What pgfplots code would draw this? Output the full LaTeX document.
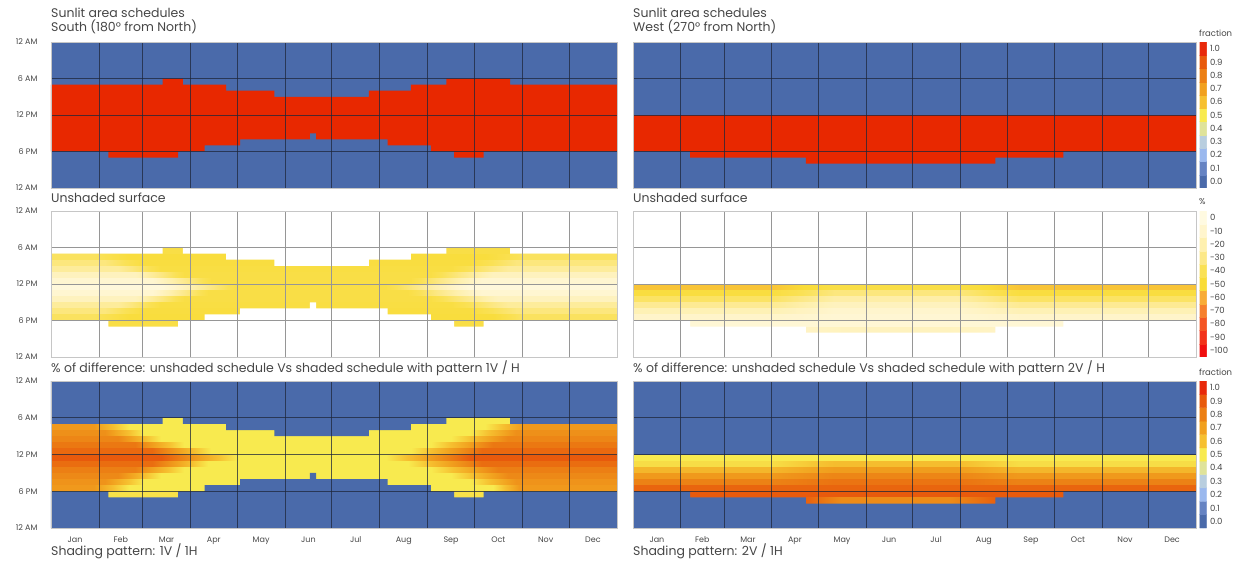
\documentclass[border=0pt]{standalone}
\usepackage{pgfplots}
\pgfplotsset{compat=1.18}
\usepackage{pgfplotstable}
\usepackage{fontspec}
\setmainfont{Poppins}

\definecolor{bgblue}{RGB}{74,106,170}
\definecolor{sunred}{RGB}{232,40,0}
\definecolor{txt}{RGB}{70,70,70}
\definecolor{gridD}{RGB}{30,38,58}
\definecolor{gridL}{RGB}{150,150,150}

\pgfplotsset{
  colormap={frac}{
    rgb255(0cm)=(74,106,170) rgb255(0.5cm)=(74,106,170)
    rgb255(1.5cm)=(101,131,195) rgb255(2.5cm)=(154,184,238)
    rgb255(3.5cm)=(184,206,223) rgb255(4.5cm)=(223,227,154)
    rgb255(5.5cm)=(248,234,79) rgb255(6.5cm)=(246,192,48)
    rgb255(7.5cm)=(241,160,30) rgb255(8.5cm)=(236,127,20)
    rgb255(9.5cm)=(232,90,12) rgb255(10.5cm)=(232,41,10)
    rgb255(11cm)=(232,41,10)},
  colormap={pct}{
    rgb255(0cm)=(240,15,15) rgb255(0.5cm)=(240,15,15)
    rgb255(1.5cm)=(242,50,25) rgb255(2.5cm)=(244,85,35)
    rgb255(3.5cm)=(246,128,45) rgb255(4.5cm)=(248,172,55)
    rgb255(5.5cm)=(249,220,55) rgb255(6.5cm)=(250,225,85)
    rgb255(7.5cm)=(252,232,135) rgb255(8.5cm)=(254,240,175)
    rgb255(9.5cm)=(255,245,205) rgb255(10.5cm)=(255,250,225)
    rgb255(11cm)=(255,250,225)},
  panel/.style={
    scale only axis, anchor=south west, height=146pt,
    xmin=0, xmax=365, ymin=0, ymax=24, y dir=reverse,
    xtick={15.5,45,74.5,105,135.5,166,196.5,227.5,258,288.5,319,349.5},
    xticklabels={},
    minor xtick={31,59,90,120,151,181,212,243,273,304,334},
    ytick={0,6,12,18,24},
    yticklabels={},
    major tick length=0pt, minor tick length=0pt,
    xminorgrids=true, ymajorgrids=true,
    axis on top,
    axis line style={draw=gray!45, line width=0.8pt},
    tick label style={font=\fontsize{8}{9.6}\selectfont, text=txt},
    yticklabel style={xshift=-10pt},
    xticklabel style={yshift=-5pt},
  },
  darkgrid/.style={grid style={gridD, line width=0.8pt, opacity=0.75}},
  lightgrid/.style={grid style={gridL, line width=0.8pt}},
  fracmap/.style={colormap name=frac, point meta min=-0.05, point meta max=1.05},
  pctmap/.style={colormap name=pct, point meta min=-105, point meta max=5},
  hours/.style={yticklabels={12 AM,6 AM,12 PM,6 PM,12 AM}},
  months/.style={xticklabels={Jan,Feb,Mar,Apr,May,Jun,Jul,Aug,Sep,Oct,Nov,Dec}},
  cbar/.style={scale only axis, anchor=south west, width=7pt, height=146pt,
    xmin=-0.5, xmax=1.5, xtick=\empty, axis line style={draw=none},
    major tick length=0pt, yticklabel pos=right,
    tick label style={font=\fontsize{8.5}{10}\selectfont, text=txt}},
}

% ---- region outlines (hours of day vs day of year) ----
\pgfplotstableread{
0 7
72 7
72 6
85 6
85 7
113 7
113 8
144 8
144 9
205 9
205 8
232 8
232 7
255 7
255 6
296 6
296 7
365 7
365 18
279 18
279 19
260 19
260 18
245 18
245 17
217 17
217 16
171 16
171 15
167 15
167 16
122 16
122 17
99 17
99 18
82 18
82 19
37 19
37 18
0 18
}\sReg
\pgfplotstableread{
0 0
0 7
72 7
72 6
85 6
85 7
113 7
113 8
144 8
144 9
205 9
205 8
232 8
232 7
255 7
255 6
296 6
296 7
365 7
365 0
}\sAbove
\pgfplotstableread{
0 24
0 18
37 18
37 19
82 19
82 18
99 18
99 17
122 17
122 16
167 16
167 15
171 15
171 16
217 16
217 17
245 17
245 18
260 18
260 19
279 19
279 18
365 18
365 24
}\sBelow
\pgfplotstableread{
0 12
365 12
365 18
279 18
279 19
235 19
235 20
112 20
112 19
37 19
37 18
0 18
}\wReg
\pgfplotstableread{
0 24
0 18
37 18
37 19
112 19
112 20
235 20
235 19
279 19
279 18
365 18
365 24
}\wBelow

% ---- South, fraction of difference ----
\pgfplotstableread{
x y c
0 6 0.5
73 6 0.5
146 6 0.5
219 6 0.5
292 6 0.5
365 6 0.5
0 7 0.5
73 7 0.5
146 7 0.5
219 7 0.5
292 7 0.5
365 7 0.5
0 7 0.72
28 7 0.72
50 7 0.5
280 7 0.5
305 7 0.72
365 7 0.72
0 8 0.72
28 8 0.72
50 8 0.5
280 8 0.5
305 8 0.72
365 8 0.72
0 8 0.75
35 8 0.75
60 8 0.5
270 8 0.5
300 8 0.75
365 8 0.75
0 9 0.75
35 9 0.75
60 9 0.5
270 9 0.5
300 9 0.75
365 9 0.75
0 9 0.78
43 9 0.78
71 9 0.5
258 9 0.5
295 9 0.78
365 9 0.78
0 10 0.78
43 10 0.78
71 10 0.5
258 10 0.5
295 10 0.78
365 10 0.78
0 10 0.82
54 10 0.82
86 10 0.5
245 10 0.5
285 10 0.82
365 10 0.82
0 11 0.82
54 11 0.82
86 11 0.5
245 11 0.5
285 11 0.82
365 11 0.82
0 11 0.86
65 11 0.86
103 11 0.5
232 11 0.5
278 11 0.86
365 11 0.86
0 12 0.86
65 12 0.86
103 12 0.5
232 12 0.5
278 12 0.86
365 12 0.86
0 12 0.9
71 12 0.9
120 12 0.5
216 12 0.5
270 12 0.9
365 12 0.9
0 13 0.9
71 13 0.9
120 13 0.5
216 13 0.5
270 13 0.9
365 13 0.9
0 13 0.85
65 13 0.85
101 13 0.5
230 13 0.5
278 13 0.85
365 13 0.85
0 14 0.85
65 14 0.85
101 14 0.5
230 14 0.5
278 14 0.85
365 14 0.85
0 14 0.8
54 14 0.8
86 14 0.5
245 14 0.5
288 14 0.8
365 14 0.8
0 15 0.8
54 15 0.8
86 15 0.5
245 15 0.5
288 15 0.8
365 15 0.8
0 15 0.77
43 15 0.77
71 15 0.5
258 15 0.5
295 15 0.77
365 15 0.77
0 16 0.77
43 16 0.77
71 16 0.5
258 16 0.5
295 16 0.77
365 16 0.77
0 16 0.74
35 16 0.74
60 16 0.5
270 16 0.5
300 16 0.74
365 16 0.74
0 17 0.74
35 17 0.74
60 17 0.5
270 17 0.5
300 17 0.74
365 17 0.74
0 17 0.72
28 17 0.72
50 17 0.5
285 17 0.5
302 17 0.72
365 17 0.72
0 18 0.72
28 18 0.72
50 18 0.5
285 18 0.5
302 18 0.72
365 18 0.72
0 18 0.52
73 18 0.52
146 18 0.52
219 18 0.52
292 18 0.52
365 18 0.52
0 19 0.52
73 19 0.52
146 19 0.52
219 19 0.52
292 19 0.52
365 19 0.52
}\blMesh

% ---- South, unshaded surface (%) ----
\pgfplotstableread{
x y c
0 6 -45
73 6 -45
146 6 -45
219 6 -45
292 6 -45
365 6 -45
0 7 -45
73 7 -45
146 7 -45
219 7 -45
292 7 -45
365 7 -45
0 7 -38
28 7 -38
50 7 -48
280 7 -48
305 7 -38
365 7 -38
0 8 -38
28 8 -38
50 8 -48
280 8 -48
305 8 -38
365 8 -38
0 8 -32
35 8 -32
60 8 -47
270 8 -47
300 8 -32
365 8 -32
0 9 -32
35 9 -32
60 9 -47
270 9 -47
300 9 -32
365 9 -32
0 9 -25
43 9 -25
71 9 -46
258 9 -46
295 9 -25
365 9 -25
0 10 -25
43 10 -25
71 10 -46
258 10 -46
295 10 -25
365 10 -25
0 10 -15
54 10 -15
86 10 -45
245 10 -45
285 10 -15
365 10 -15
0 11 -15
54 11 -15
86 11 -45
245 11 -45
285 11 -15
365 11 -15
0 11 -8
65 11 -8
103 11 -45
232 11 -45
278 11 -8
365 11 -8
0 12 -8
65 12 -8
103 12 -45
232 12 -45
278 12 -8
365 12 -8
0 12 -3
71 12 -3
120 12 -45
216 12 -45
270 12 -3
365 12 -3
0 13 -3
71 13 -3
120 13 -45
216 13 -45
270 13 -3
365 13 -3
0 13 -8
65 13 -8
101 13 -45
230 13 -45
278 13 -8
365 13 -8
0 14 -8
65 14 -8
101 14 -45
230 14 -45
278 14 -8
365 14 -8
0 14 -15
54 14 -15
86 14 -45
245 14 -45
288 14 -15
365 14 -15
0 15 -15
54 15 -15
86 15 -45
245 15 -45
288 15 -15
365 15 -15
0 15 -25
43 15 -25
71 15 -46
258 15 -46
295 15 -25
365 15 -25
0 16 -25
43 16 -25
71 16 -46
258 16 -46
295 16 -25
365 16 -25
0 16 -32
35 16 -32
60 16 -47
270 16 -47
300 16 -32
365 16 -32
0 17 -32
35 17 -32
60 17 -47
270 17 -47
300 17 -32
365 17 -32
0 17 -38
28 17 -38
50 17 -48
285 17 -48
302 17 -38
365 17 -38
0 18 -38
28 18 -38
50 18 -48
285 18 -48
302 18 -38
365 18 -38
0 18 -45
73 18 -45
146 18 -45
219 18 -45
292 18 -45
365 18 -45
0 19 -45
73 19 -45
146 19 -45
219 19 -45
292 19 -45
365 19 -45
}\mlMesh

% ---- West, fraction of difference ----
\pgfplotstableread{
x y c
0 12 0.5
90 12 0.5
130 12 0.5
210 12 0.5
250 12 0.5
365 12 0.5
0 13 0.5
90 13 0.5
130 13 0.5
210 13 0.5
250 13 0.5
365 13 0.5
0 13 0.53
90 13 0.53
130 13 0.61
210 13 0.61
250 13 0.53
365 13 0.53
0 14 0.53
90 14 0.53
130 14 0.61
210 14 0.61
250 14 0.53
365 14 0.53
0 14 0.63
90 14 0.63
130 14 0.71
210 14 0.71
250 14 0.63
365 14 0.63
0 15 0.63
90 15 0.63
130 15 0.71
210 15 0.71
250 15 0.63
365 15 0.63
0 15 0.72
90 15 0.72
130 15 0.78
210 15 0.78
250 15 0.72
365 15 0.72
0 16 0.72
90 16 0.72
130 16 0.78
210 16 0.78
250 16 0.72
365 16 0.72
0 16 0.79
90 16 0.79
130 16 0.83
210 16 0.83
250 16 0.79
365 16 0.79
0 17 0.79
90 17 0.79
130 17 0.83
210 17 0.83
250 17 0.79
365 17 0.79
0 17 0.87
90 17 0.87
130 17 0.87
210 17 0.87
250 17 0.87
365 17 0.87
0 18 0.87
90 18 0.87
130 18 0.87
210 18 0.87
250 18 0.87
365 18 0.87
0 18 0.9
90 18 0.9
130 18 0.9
210 18 0.9
250 18 0.9
365 18 0.9
0 19 0.9
90 19 0.9
130 19 0.9
210 19 0.9
250 19 0.9
365 19 0.9
0 19 0.88
112 19 0.88
135 19 0.76
205 19 0.76
235 19 0.88
365 19 0.88
0 20 0.88
112 20 0.88
135 20 0.76
205 20 0.76
235 20 0.88
365 20 0.88
}\brMesh

% ---- West, unshaded surface (%) ----
\pgfplotstableread{
x y c
0 12 -55
90 12 -55
130 12 -45
210 12 -45
250 12 -55
365 12 -55
0 13 -55
90 13 -55
130 13 -45
210 13 -45
250 13 -55
365 13 -55
0 13 -47
90 13 -47
130 13 -32
210 13 -32
250 13 -47
365 13 -47
0 14 -47
90 14 -47
130 14 -32
210 14 -32
250 14 -47
365 14 -47
0 14 -37
90 14 -37
130 14 -22
210 14 -22
250 14 -37
365 14 -37
0 15 -37
90 15 -37
130 15 -22
210 15 -22
250 15 -37
365 15 -37
0 15 -27
90 15 -27
130 15 -15
210 15 -15
250 15 -27
365 15 -27
0 16 -27
90 16 -27
130 16 -15
210 16 -15
250 16 -27
365 16 -27
0 16 -18
90 16 -18
130 16 -10
210 16 -10
250 16 -18
365 16 -18
0 17 -18
90 17 -18
130 17 -10
210 17 -10
250 17 -18
365 17 -18
0 17 -11
90 17 -11
130 17 -7
210 17 -7
250 17 -11
365 17 -11
0 18 -11
90 18 -11
130 18 -7
210 18 -7
250 18 -11
365 18 -11
0 18 -6
90 18 -6
130 18 -6
210 18 -6
250 18 -6
365 18 -6
0 19 -6
90 19 -6
130 19 -6
210 19 -6
250 19 -6
365 19 -6
0 19 -13
112 19 -13
135 19 -15
205 19 -15
235 19 -13
365 19 -13
0 20 -13
112 20 -13
135 20 -15
205 20 -15
235 20 -13
365 20 -13
}\mrMesh

\pgfplotstableread{
x y c
0 0 0
1 0 0
0 0.1 0.1
1 0.1 0.1
0 0.2 0.2
1 0.2 0.2
0 0.3 0.3
1 0.3 0.3
0 0.4 0.4
1 0.4 0.4
0 0.5 0.5
1 0.5 0.5
0 0.6 0.6
1 0.6 0.6
0 0.7 0.7
1 0.7 0.7
0 0.8 0.8
1 0.8 0.8
0 0.9 0.9
1 0.9 0.9
0 1 1
1 1 1
}\fracBar
\pgfplotstableread{
x y c
0 -100 -100
1 -100 -100
0 -90 -90
1 -90 -90
0 -80 -80
1 -80 -80
0 -70 -70
1 -70 -70
0 -60 -60
1 -60 -60
0 -50 -50
1 -50 -50
0 -40 -40
1 -40 -40
0 -30 -30
1 -30 -30
0 -20 -20
1 -20 -20
0 -10 -10
1 -10 -10
0 0 0
1 0 0
}\pctBar

\newcommand\ttl{\fontsize{12.5}{15}\selectfont}
\newcommand\sml{\fontsize{8.5}{10}\selectfont}

\begin{document}
\begin{tikzpicture}
\path[use as bounding box] (0,0) rectangle (1240pt,563pt);

% ===== top row =====
\begin{axis}[panel, darkgrid, hours, at={(51pt,375pt)}, width=566pt,
  axis background/.style={fill=bgblue}]
\addplot[draw=none, fill=sunred] table {\sReg} -- cycle;
\end{axis}
\begin{axis}[panel, darkgrid, at={(633pt,375pt)}, width=563pt,
  axis background/.style={fill=bgblue}]
\addplot[draw=none, fill=sunred] table {\wReg} -- cycle;
\end{axis}

% ===== middle row =====
\begin{axis}[panel, lightgrid, pctmap, hours, at={(51pt,206pt)}, width=566pt,
  axis background/.style={fill=white}]
\addplot[surf, shader=interp, mesh/cols=6, point meta=explicit]
  table[x=x, y=y, meta=c] {\mlMesh};
\addplot[draw=none, fill=white] table {\sAbove} -- cycle;
\addplot[draw=none, fill=white] table {\sBelow} -- cycle;
\end{axis}
\begin{axis}[panel, lightgrid, pctmap, at={(633pt,206pt)}, width=563pt,
  axis background/.style={fill=white}]
\addplot[surf, shader=interp, mesh/cols=6, point meta=explicit]
  table[x=x, y=y, meta=c] {\mrMesh};
\addplot[draw=none, fill=white] table {\wBelow} -- cycle;
\end{axis}

% ===== bottom row =====
\begin{axis}[panel, darkgrid, fracmap, hours, months, at={(51pt,35pt)}, width=566pt,
  height=147pt, axis background/.style={fill=bgblue}]
\addplot[surf, shader=interp, mesh/cols=6, point meta=explicit]
  table[x=x, y=y, meta=c] {\blMesh};
\addplot[draw=none, fill=bgblue] table {\sAbove} -- cycle;
\addplot[draw=none, fill=bgblue] table {\sBelow} -- cycle;
\end{axis}
\begin{axis}[panel, darkgrid, fracmap, months, at={(633pt,35pt)}, width=563pt,
  height=147pt, axis background/.style={fill=bgblue}]
\addplot[surf, shader=interp, mesh/cols=6, point meta=explicit]
  table[x=x, y=y, meta=c] {\brMesh};
\addplot[draw=none, fill=bgblue] table {\wBelow} -- cycle;
\end{axis}

% ===== colour bars =====
\begin{axis}[cbar, fracmap, at={(1199.5pt,375pt)}, ymin=-0.05, ymax=1.05,
  ytick={0,0.1,0.2,0.3,0.4,0.5,0.6,0.7,0.8,0.9,1},
  yticklabels={0.0,0.1,0.2,0.3,0.4,0.5,0.6,0.7,0.8,0.9,1.0}]
\addplot[matrix plot*, mesh/cols=2, point meta=explicit] table[x=x,y=y,meta=c] {\fracBar};
\end{axis}
\begin{axis}[cbar, pctmap, at={(1199.5pt,206pt)}, ymin=-105, ymax=5,
  ytick={-100,-90,-80,-70,-60,-50,-40,-30,-20,-10,0},
  yticklabels={-100,-90,-80,-70,-60,-50,-40,-30,-20,-10,0}]
\addplot[matrix plot*, mesh/cols=2, point meta=explicit] table[x=x,y=y,meta=c] {\pctBar};
\end{axis}
\begin{axis}[cbar, fracmap, at={(1199.5pt,35pt)}, height=147pt, ymin=-0.05, ymax=1.05,
  ytick={0,0.1,0.2,0.3,0.4,0.5,0.6,0.7,0.8,0.9,1},
  yticklabels={0.0,0.1,0.2,0.3,0.4,0.5,0.6,0.7,0.8,0.9,1.0}]
\addplot[matrix plot*, mesh/cols=2, point meta=explicit] table[x=x,y=y,meta=c] {\fracBar};
\end{axis}

% ===== texts =====
\begin{scope}[every node/.style={anchor=base west, inner sep=0pt, text=txt}]
\node[font=\ttl] at (51pt,545pt) {Sunlit area schedules};
\node[font=\ttl] at (51pt,531pt) {South (180° from North)};
\node[font=\ttl] at (633pt,545pt) {Sunlit area schedules};
\node[font=\ttl] at (633pt,531pt) {West (270° from North)};
\node[font=\ttl] at (51pt,360pt) {Unshaded surface};
\node[font=\ttl] at (633pt,360pt) {Unshaded surface};
\node[font=\ttl] at (51pt,191pt) {\% of difference: unshaded schedule Vs shaded schedule with pattern 1V / H};
\node[font=\ttl] at (633pt,191pt) {\% of difference: unshaded schedule Vs shaded schedule with pattern 2V / H};
\node[font=\ttl] at (51pt,8pt) {Shading pattern: 1V / 1H};
\node[font=\ttl] at (633pt,8pt) {Shading pattern: 2V / 1H};
\node[font=\sml] at (1199pt,526pt) {fraction};
\node[font=\sml] at (1199pt,358pt) {\%};
\node[font=\sml] at (1199pt,187pt) {fraction};
\end{scope}
\end{tikzpicture}
\end{document}
